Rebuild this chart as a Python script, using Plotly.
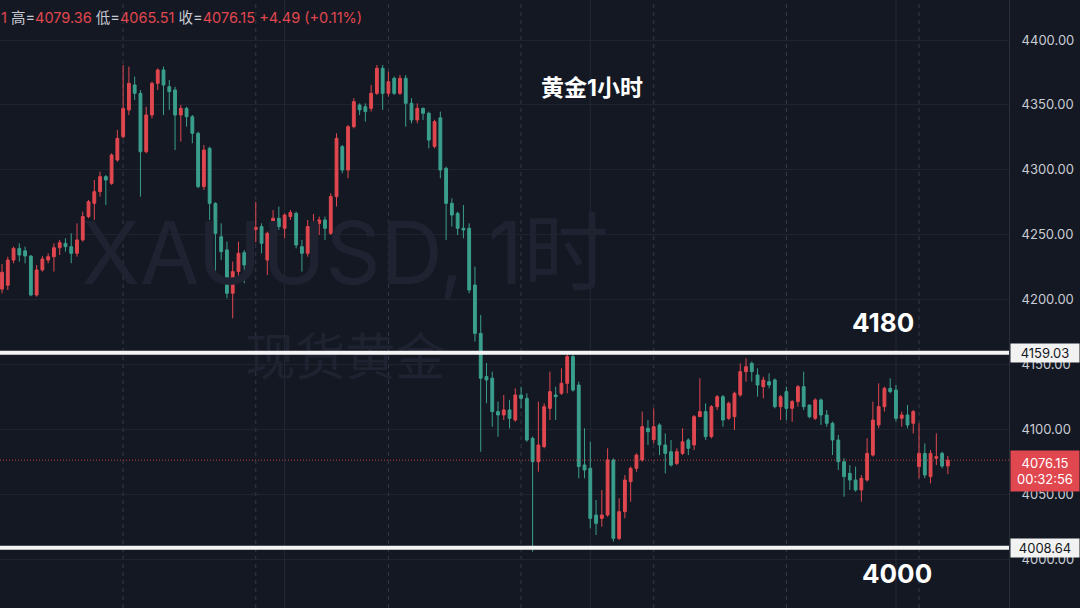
import plotly.graph_objects as go

# ---------------- data (XAUUSD 1h candles) ----------------
opens = [4208.0, 4211.0, 4230.4, 4239.4, 4237.5, 4233.5, 4203.5, 4222.8, 4230.4, 4233.0,
         4239.9, 4243.3, 4240.7, 4235.6, 4245.9, 4263.9, 4274.1, 4283.1, 4294.7, 4289.5,
         4307.5, 4325.5, 4346.1, 4365.3, 4358.9, 4313.9, 4342.2, 4366.6, 4376.9, 4364.0,
         4361.5, 4342.2, 4347.3, 4340.9, 4328.1, 4287.0, 4316.5, 4274.1, 4248.4, 4238.2,
         4204.8, 4221.5, 4236.1, 4226.6, 4254.0, 4256.2, 4230.4, 4243.3, 4262.6, 4254.9,
         4263.9, 4266.4, 4240.7, 4235.6, 4256.2, 4258.7, 4261.3, 4251.0, 4279.3, 4317.8,
         4299.8, 4333.2, 4349.9, 4348.6, 4347.3, 4358.9, 4378.2, 4358.9, 4370.5, 4358.9,
         4370.5, 4351.2, 4338.4, 4347.3, 4343.5, 4318.0, 4340.0, 4301.1, 4274.1, 4266.4,
         4254.9, 4254.9, 4211.2, 4173.9, 4140.6, 4139.3, 4113.6, 4111.0, 4114.9, 4107.1,
         4126.4, 4123.8, 4093.0, 4075.0, 4086.6, 4116.1, 4126.4, 4127.7, 4135.4, 4156.0,
         4134.1, 4072.5, 4069.9, 4033.9, 4031.3, 4033.9, 4076.3, 4015.9, 4036.5, 4059.6,
         4069.9, 4076.3, 4100.7, 4092.0, 4103.3, 4087.9, 4082.7, 4073.7, 4081.4, 4091.7,
         4087.9, 4109.7, 4113.6, 4094.3, 4117.4, 4125.1, 4108.4, 4109.7, 4126.4, 4144.4,
         4150.8, 4141.8, 4132.8, 4136.7, 4138.0, 4117.4, 4129.0, 4116.1, 4121.3, 4132.8,
         4118.7, 4108.4, 4122.6, 4111.0, 4104.6, 4091.7, 4075.0, 4066.0, 4060.9, 4053.2,
         4060.9, 4080.1, 4103.3, 4117.4, 4131.5, 4130.2, 4108.4, 4111.0, 4104.6, 4071.2,
         4081.4, 4063.5, 4077.6, 4081.4, 4071.71]
highs = [4227.4, 4233.0, 4240.7, 4243.3, 4240.7, 4234.3, 4226.6, 4233.5, 4235.6, 4243.3,
         4245.9, 4247.2, 4251.0, 4258.7, 4267.7, 4276.7, 4292.1, 4298.5, 4296.0, 4312.7,
         4330.7, 4380.7, 4379.5, 4371.8, 4361.5, 4348.6, 4367.9, 4378.2, 4379.5, 4369.2,
         4364.0, 4349.9, 4348.6, 4342.2, 4329.4, 4319.1, 4317.8, 4275.0, 4258.7, 4244.6,
         4229.2, 4244.6, 4238.2, 4251.0, 4275.4, 4258.7, 4252.3, 4269.0, 4271.6, 4266.4,
         4269.0, 4267.7, 4245.9, 4261.3, 4265.9, 4263.9, 4263.9, 4281.8, 4328.1, 4319.1,
         4334.5, 4355.1, 4351.2, 4351.2, 4365.3, 4380.7, 4380.7, 4375.6, 4371.8, 4373.0,
         4373.0, 4355.1, 4351.2, 4348.0, 4344.8, 4338.5, 4344.8, 4302.4, 4278.0, 4267.7,
         4272.8, 4258.7, 4225.3, 4188.1, 4151.0, 4144.4, 4121.3, 4126.4, 4122.6, 4131.5,
         4132.8, 4127.7, 4094.3, 4121.3, 4120.0, 4144.4, 4132.8, 4147.0, 4159.8, 4157.3,
         4136.7, 4100.7, 4090.4, 4045.5, 4053.2, 4085.3, 4077.6, 4046.8, 4064.7, 4071.2,
         4081.4, 4113.6, 4107.1, 4116.1, 4104.6, 4096.8, 4091.7, 4085.3, 4100.7, 4093.0,
         4111.0, 4139.2, 4120.0, 4118.7, 4126.4, 4126.4, 4121.3, 4129.0, 4150.8, 4154.7,
         4152.1, 4147.0, 4140.5, 4143.1, 4139.2, 4126.4, 4132.8, 4122.6, 4134.1, 4144.4,
         4118.7, 4123.8, 4123.8, 4114.8, 4105.8, 4095.6, 4077.6, 4072.4, 4071.2, 4064.7,
         4093.0, 4121.3, 4135.4, 4132.8, 4139.2, 4134.1, 4113.6, 4118.7, 4114.8, 4104.6,
         4089.1, 4084.0, 4096.8, 4082.7, 4079.36]
lows = [4204.8, 4207.3, 4227.9, 4229.2, 4227.9, 4202.5, 4202.2, 4221.5, 4227.9, 4221.5,
        4234.3, 4236.9, 4227.9, 4233.0, 4244.6, 4262.6, 4261.3, 4279.3, 4272.8, 4288.3,
        4306.2, 4324.2, 4342.2, 4353.8, 4279.3, 4312.7, 4339.6, 4361.5, 4342.2, 4346.1,
        4315.2, 4321.7, 4333.2, 4320.4, 4285.7, 4284.4, 4261.3, 4217.6, 4230.4, 4200.9,
        4185.5, 4215.0, 4212.5, 4220.2, 4244.0, 4235.6, 4218.9, 4229.2, 4253.6, 4247.2,
        4261.3, 4239.4, 4221.5, 4233.0, 4253.6, 4249.7, 4245.9, 4249.7, 4271.6, 4297.3,
        4293.4, 4331.9, 4342.2, 4337.1, 4344.8, 4357.6, 4346.1, 4356.3, 4357.6, 4357.6,
        4333.2, 4335.8, 4335.8, 4338.4, 4316.5, 4316.5, 4293.4, 4245.9, 4256.2, 4249.7,
        4247.2, 4204.8, 4167.5, 4082.7, 4120.0, 4102.0, 4094.3, 4107.1, 4100.7, 4105.8,
        4116.1, 4090.4, 4005.7, 4067.3, 4085.3, 4107.1, 4107.1, 4126.4, 4127.7, 4129.0,
        4062.2, 4062.2, 4023.6, 4018.5, 4024.9, 4032.6, 4013.4, 4014.6, 4031.3, 4044.2,
        4067.3, 4075.0, 4087.9, 4089.0, 4080.1, 4066.0, 4071.2, 4072.4, 4080.1, 4080.1,
        4084.0, 4109.7, 4091.7, 4093.0, 4114.8, 4102.0, 4107.1, 4099.4, 4125.1, 4136.7,
        4136.7, 4125.1, 4123.8, 4131.5, 4116.1, 4107.1, 4107.1, 4105.8, 4117.4, 4114.8,
        4108.4, 4107.1, 4103.3, 4102.0, 4080.1, 4068.6, 4048.0, 4053.2, 4051.9, 4044.2,
        4059.6, 4078.9, 4100.7, 4113.6, 4127.7, 4105.8, 4102.0, 4100.7, 4096.8, 4062.2,
        4062.2, 4058.3, 4072.4, 4069.9, 4065.51]
closes = [4221.0, 4230.4, 4239.4, 4234.3, 4233.5, 4203.5, 4222.8, 4231.2, 4233.0, 4239.9,
          4243.8, 4240.7, 4235.6, 4245.9, 4263.9, 4275.4, 4283.1, 4294.7, 4292.1, 4311.4,
          4324.2, 4347.3, 4366.6, 4358.9, 4313.9, 4342.2, 4366.6, 4376.9, 4365.3, 4360.2,
          4342.2, 4347.3, 4340.9, 4328.1, 4287.0, 4315.2, 4274.1, 4251.0, 4236.9, 4204.8,
          4221.5, 4235.6, 4226.6, 4247.2, 4255.6, 4243.3, 4251.0, 4262.6, 4256.2, 4265.1,
          4267.0, 4242.0, 4235.6, 4256.2, 4258.7, 4261.3, 4254.9, 4279.3, 4324.2, 4299.8,
          4333.2, 4352.5, 4346.1, 4344.8, 4358.9, 4378.2, 4358.9, 4367.9, 4358.9, 4370.5,
          4351.2, 4338.4, 4347.3, 4343.5, 4322.9, 4337.1, 4299.8, 4274.1, 4265.1, 4254.9,
          4253.6, 4207.3, 4173.9, 4139.3, 4138.0, 4113.6, 4111.0, 4114.9, 4108.4, 4126.4,
          4123.8, 4091.7, 4075.0, 4087.9, 4117.4, 4129.0, 4125.1, 4135.4, 4156.0, 4130.2,
          4071.2, 4068.6, 4031.3, 4027.5, 4033.9, 4076.3, 4015.9, 4036.5, 4060.9, 4069.9,
          4080.1, 4102.0, 4098.1, 4102.0, 4087.9, 4081.4, 4072.4, 4082.7, 4090.4, 4085.3,
          4109.7, 4113.6, 4094.3, 4117.4, 4125.1, 4107.1, 4120.0, 4127.7, 4144.4, 4148.2,
          4144.4, 4134.1, 4137.9, 4134.1, 4117.4, 4125.1, 4116.1, 4121.3, 4132.8, 4117.4,
          4109.7, 4122.6, 4111.0, 4104.6, 4091.7, 4075.0, 4063.5, 4060.9, 4053.2, 4062.2,
          4081.4, 4107.1, 4117.4, 4131.5, 4129.0, 4108.4, 4111.0, 4103.3, 4113.6, 4081.4,
          4064.7, 4081.4, 4078.9, 4071.66, 4076.15]
bar_index = list(range(len(closes)))

price_ticks = [4000, 4050, 4100, 4150, 4200, 4250, 4300, 4350, 4400]
price_tick_labels = ["%.2f" % v for v in price_ticks]

level_prices = [4159.03, 4008.64]
last_price = 4076.15
countdown = "00:32:56"
session_bars = [21, 44, 67, 90, 113, 136, 159]   # dashed session separators
grid_bars = [49, 102, 155]                      # plain vertical grid lines

header_values = {"高": "4079.36", "低": "4065.51", "收": "4076.15"}
header_change = "+4.49 (+0.11%)"
title_text = "黄金1小时"
level_notes = ["4180", "4000"]
watermark_main = "XAUUSD, 1时"
watermark_sub = "现货黄金"

# ---------------- styling ----------------
BG = "#141823"
RED = "#e0474f"
GREEN = "#3a9f8d"
FONT = "Inter, 'Noto Sans CJK SC', sans-serif"
PLOT_W = 1009.0
H = 608.0

fig = go.Figure()

# watermark (drawn first so candles sit on top)
fig.add_trace(go.Scatter(
    x=[59.5, 59.5], y=[4228.9, 4151.8], mode="text",
    text=[watermark_main, watermark_sub],
    textfont=dict(family=FONT, size=[86, 50], color="#1f2331"),
    hoverinfo="skip", showlegend=False))

fig.add_trace(go.Candlestick(
    x=bar_index, open=opens, high=highs, low=lows, close=closes,
    increasing=dict(line=dict(color=RED, width=1), fillcolor=RED),
    decreasing=dict(line=dict(color=GREEN, width=1), fillcolor=GREEN),
    whiskerwidth=0, showlegend=False, hoverinfo="skip"))

shapes = []
for b in session_bars:
    shapes.append(dict(type="line", xref="x", yref="paper", x0=b, x1=b, y0=0, y1=1,
                       line=dict(color="#363a48", width=1, dash="4px,4px"), layer="below"))
for b in grid_bars:
    shapes.append(dict(type="line", xref="x", yref="paper", x0=b, x1=b, y0=0, y1=1,
                       line=dict(color="#242835", width=1), layer="below"))
# last price dotted line
shapes.append(dict(type="line", xref="paper", yref="y", x0=0, x1=1, y0=last_price, y1=last_price,
                   line=dict(color=RED, width=1, dash="1px,2px"), opacity=0.8))
# drawn key levels
for lv in level_prices:
    shapes.append(dict(type="line", xref="paper", yref="y", x0=0, x1=1, y0=lv, y1=lv,
                       line=dict(color="#f4f4f4", width=4)))

def px(xp):
    return xp / PLOT_W

def py(yp):
    return 1 - yp / H

lab = "#c7cad2"
val = RED
header = ('<span style="color:%s">1</span> ' % val) + " ".join(
    '<span style="color:%s">%s=</span><span style="color:%s">%s</span>' % (lab, k, val, v)
    for k, v in header_values.items()) + (' <span style="color:%s">%s</span>' % (val, header_change))

def note(text, x, y, size):
    return dict(text="<b>%s</b>" % text, xref="paper", yref="paper", x=px(x), y=py(y),
                xanchor="center", yanchor="middle", showarrow=False,
                font=dict(family=FONT, size=size, color="#ffffff"))

annotations = [
    dict(text=header, xref="paper", yref="paper", x=px(-1), y=py(17), xanchor="left",
         yanchor="middle", showarrow=False, font=dict(family=FONT, size=14.5)),
    note(title_text, 592, 88, 23),
    note(level_notes[0], 883, 322, 26),
    note(level_notes[1], 897, 573, 26),
]
for lv in level_prices:
    annotations.append(dict(text="%.2f" % lv, xref="paper", yref="y", x=1, y=lv,
                            xanchor="left", xshift=1, yanchor="middle", showarrow=False,
                            width=66, height=16, align="center", bgcolor="#f2f2f2",
                            font=dict(family=FONT, size=13, color="#131722")))
annotations.append(dict(text="%.2f<br>%s" % (last_price, countdown), xref="paper", yref="y",
                        x=1, y=last_price, xanchor="left", xshift=1, yanchor="middle", yshift=-11,
                        showarrow=False, width=66, height=38, align="center", bgcolor=RED,
                        font=dict(family=FONT, size=13, color="#ffffff")))

fig.update_layout(
    width=1080, height=608,
    margin=dict(l=0, r=71, t=0, b=0, pad=0),
    paper_bgcolor=BG, plot_bgcolor=BG,
    shapes=shapes, annotations=annotations,
    showlegend=False,
    xaxis=dict(range=[-0.35, 174.6], showgrid=False, zeroline=False, showticklabels=False,
               rangeslider=dict(visible=False), fixedrange=True),
    yaxis=dict(side="right", range=[3962.24, 4430.83], tickvals=price_ticks,
               ticktext=price_tick_labels, gridcolor="#20242f", gridwidth=1,
               showline=True, linecolor="#2a2e39", linewidth=1, ticks="",
               ticklabelstandoff=9, zeroline=False, fixedrange=True,
               tickfont=dict(family=FONT, size=13, color="#c9ccd4")),
)

fig.write_html("out.html", config={"displayModeBar": False},
               post_script="document.body.style.margin='0';document.body.style.padding='0';"
                           "document.body.style.overflow='hidden';document.body.style.background='%s';" % BG)
